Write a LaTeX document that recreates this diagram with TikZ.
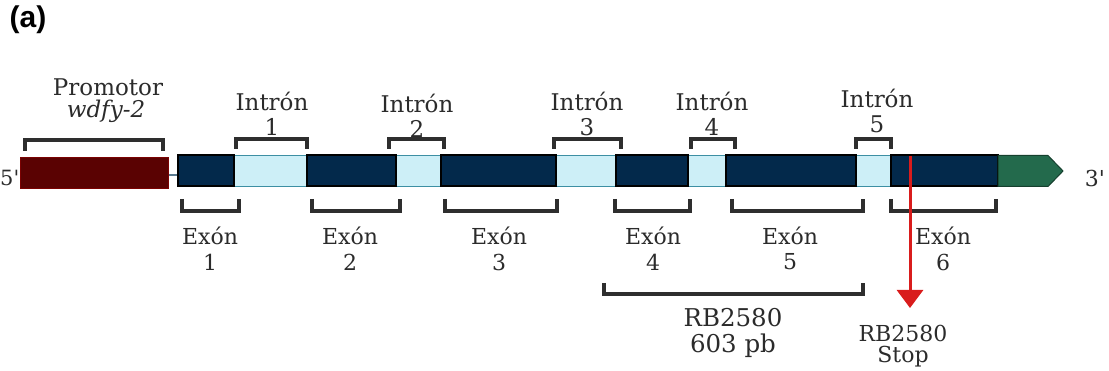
\documentclass[tikz,border=0pt]{standalone}
\usepackage{fontspec}
\setmainfont{DejaVu Serif}
\newfontfamily\straightfont{DejaVu Serif}[Ligatures=TeXOff]
\newfontfamily\panelfont{Liberation Sans}
\usetikzlibrary{arrows.meta}
\definecolor{exoncol}{HTML}{03294B}
\definecolor{introncol}{HTML}{CDEFF7}
\definecolor{introntrim}{HTML}{3D8FA3}
\definecolor{promcol}{HTML}{5A0202}
\definecolor{utrcol}{HTML}{236A4C}
\definecolor{brkcol}{HTML}{2E2E2E}
\definecolor{stopcol}{HTML}{D91C1C}
\definecolor{txtcol}{HTML}{2B2B2B}
\definecolor{linkcol}{HTML}{5A7A90}
\tikzset{
  brk/.style={draw=brkcol, line width=3.2pt, line join=miter},
  exonbox/.style={fill=exoncol, draw=black, line width=2pt},
  lbl/.style={font=\fontsize{22}{24}\selectfont, text=txtcol, inner sep=0pt, anchor=center},
  intlbl/.style={font=\fontsize{23}{25}\selectfont, text=txtcol, inner sep=0pt, anchor=center},
  biglbl/.style={font=\fontsize{24.5}{26}\selectfont, text=txtcol, inner sep=0pt, anchor=center},
  smalllbl/.style={font=\fontsize{22}{24}\selectfont, text=txtcol, inner sep=0pt, anchor=center}
}
\begin{document}
\begin{tikzpicture}[x=1pt,y=-1pt]
\useasboundingbox (0,0) rectangle (1109,371);
% panel label
\node[font=\panelfont\bfseries\fontsize{30}{32}\selectfont, inner sep=0pt] (panel) at (28,20) {(a)};
% end labels
\node[lbl, anchor=west, font=\straightfont\fontsize{21}{23}\selectfont] (five) at (0,178) {5'};
\node[lbl, font=\straightfont\fontsize{22}{24}\selectfont] (three) at (1095,178) {3'};
% promoter
\draw[linkcol, line width=1.2pt] (168,175) -- (179,175);
\filldraw[fill=promcol, draw=promcol!80!red, line width=0.8pt] (20,157) rectangle (168,188);
% introns
\foreach \a/\b in {234/307, 396/441, 556/616, 688/726, 856/891}{
  \fill[introncol] (\a,155) rectangle (\b,187);
  \draw[introntrim, line width=1.8pt] (\a,155.5) -- (\b,155.5) (\a,186.5) -- (\b,186.5);
}
% exons
\foreach \a/\b in {178/234, 307/396, 441/556, 616/688, 726/856, 891/998}{
  \draw[exonbox] (\a,155.5) rectangle (\b,186.5);
}
% 3' UTR arrow
\filldraw[fill=utrcol, draw=utrcol!60!black, line width=1pt] (998,155.5) -- (1048,155.5) -- (1063,171) -- (1048,186.5) -- (998,186.5) -- cycle;
% promoter bracket and label
\draw[brk] (25,151) -- (25,140) -- (163,140) -- (163,151);
\node[intlbl] (promlbl) at (108,87) {Promotor};
\node[intlbl, font=\itshape\fontsize{23}{25}\selectfont] (promgene) at (106,111) {wdfy-2};
% intron brackets
\foreach \a/\b in {236/307, 389/444, 554/621, 691/735, 856/891}{
  \draw[brk] (\a,149) -- (\a,139) -- (\b,139) -- (\b,149);
}
\foreach \x/\n/\y in {272/1/101, 417/2/103, 587/3/101, 712/4/101, 877/5/98}{
  \node[intlbl] (intron\n) at (\x,\y) {Intrón};
  \node[intlbl] (intronnum\n) at (\x,\y+26) {\n};
}
% exon brackets
\foreach \a/\b in {182/239, 312/400, 445/557, 615/690, 732/863, 891/996}{
  \draw[brk] (\a,199) -- (\a,211) -- (\b,211) -- (\b,199);
}
\foreach \x/\n in {210/1, 350/2, 499/3, 653/4, 790/5, 943/6}{
  \node[lbl] (exon\n) at (\x,236) {Exón};
  \node[lbl] (exonnum\n) at (\x,262) {\n};
}
% RB2580 amplicon
\draw[brk] (604,283) -- (604,294) -- (863,294) -- (863,283);
\node[biglbl] (amp) at (733,318) {RB2580};
\node[biglbl] (ampsize) at (733,346) {603 pb};
% stop arrow
\coordinate (stoptop) at (910,156);
\coordinate (stopend) at (910,308);
\draw[stopcol, line width=3pt, -{Triangle[width=26pt,length=18pt]}] (stoptop) -- (stopend);
\node[smalllbl] (stoplbl) at (903,333) {RB2580};
\node[smalllbl] (stoplbl2) at (903,357) {Stop};
\end{tikzpicture}
\end{document}
